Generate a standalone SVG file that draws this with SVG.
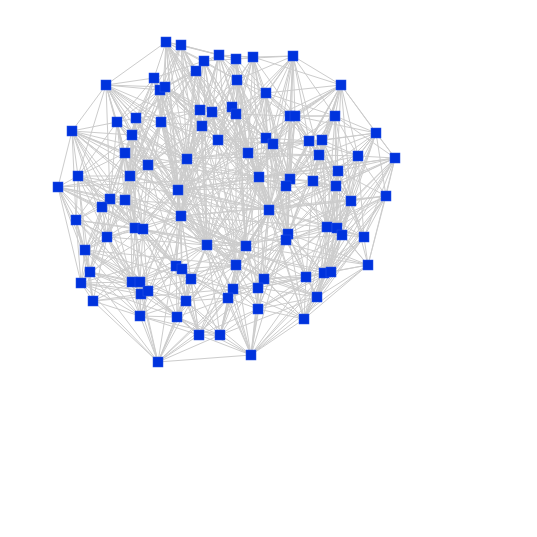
<svg xmlns="http://www.w3.org/2000/svg" width="537" height="537" viewBox="0 0 537 537">
<style>
.e{fill:none;stroke:#cccccc;stroke-width:1}
.n{fill:#0033dd;stroke:#2a55e6;stroke-width:0.5}
</style>
<rect width="537" height="537" fill="#ffffff"/>
<g id="edges">
<path class="e" d="M166 42L181 45M166 42L204 61M166 42L196 71M166 42L106 85M166 42L154 78M166 42L165 87M166 42L237 80M166 42L200 110M166 42L161 122M166 42L219 55M166 42L218 140M166 42L187 159M166 42L248 153"/>
<path class="e" d="M181 45L219 55M181 45L196 71M181 45L160 90M181 45L200 110M181 45L212 112M181 45L236 59M181 45L136 118M181 45L202 126M181 45L148 165"/>
<path class="e" d="M204 61L219 55M204 61L236 59M204 61L196 71M204 61L237 80M204 61L232 107M204 61L236 114M204 61L154 78M204 61L132 135M204 61L248 153M204 61L218 140"/>
<path class="e" d="M219 55L236 59M219 55L253 57M219 55L237 80M219 55L266 93M219 55L212 112M219 55L202 126M219 55L165 87M219 55L266 138"/>
<path class="e" d="M236 59L253 57M236 59L293 56M236 59L237 80M236 59L232 107M236 59L290 116M236 59L218 140M236 59L200 110M236 59L273 144"/>
<path class="e" d="M253 57L293 56M253 57L266 93M253 57L237 80M253 57L236 114M253 57L295 116M253 57L266 138M253 57L248 153M253 57L341 85"/>
<path class="e" d="M293 56L266 93M293 56L341 85M293 56L290 116M293 56L295 116M293 56L335 116M293 56L237 80M293 56L309 141M293 56L273 144M293 56L236 114M293 56L259 177"/>
<path class="e" d="M196 71L160 90M196 71L165 87M196 71L200 110M196 71L212 112M196 71L161 122M196 71L232 107M196 71L187 159M196 71L136 118"/>
<path class="e" d="M106 85L154 78M106 85L160 90M106 85L117 122M106 85L136 118M106 85L72 131M106 85L132 135M106 85L165 87M106 85L125 153M106 85L161 122M106 85L148 165M106 85L78 176M106 85L187 159"/>
<path class="e" d="M154 78L160 90M154 78L165 87M154 78L200 110M154 78L117 122M154 78L136 118M154 78L161 122M154 78L132 135M154 78L202 126M154 78L248 153"/>
<path class="e" d="M160 90L165 87M160 90L136 118M160 90L161 122M160 90L117 122M160 90L125 153M160 90L187 159M160 90L200 110"/>
<path class="e" d="M165 87L200 110M165 87L212 112M165 87L161 122M165 87L202 126M165 87L132 135M165 87L218 140"/>
<path class="e" d="M237 80L266 93M237 80L200 110M237 80L212 112M237 80L232 107M237 80L236 114M237 80L290 116M237 80L218 140M237 80L266 138M237 80L248 153"/>
<path class="e" d="M266 93L232 107M266 93L236 114M266 93L290 116M266 93L295 116M266 93L266 138M266 93L273 144M266 93L335 116M266 93L248 153M266 93L341 85M266 93L259 177"/>
<path class="e" d="M341 85L290 116M341 85L295 116M341 85L335 116M341 85L309 141M341 85L322 140M341 85L376 133M341 85L319 155M341 85L273 144M341 85L358 156M341 85L395 158M341 85L313 181"/>
<path class="e" d="M200 110L212 112M200 110L161 122M200 110L202 126M200 110L218 140M200 110L187 159M200 110L136 118M200 110L148 165M200 110L178 190"/>
<path class="e" d="M212 112L232 107M212 112L236 114M212 112L202 126M212 112L218 140M212 112L248 153M212 112L187 159M212 112L266 138"/>
<path class="e" d="M232 107L236 114M232 107L202 126M232 107L218 140M232 107L266 138M232 107L248 153M232 107L273 144"/>
<path class="e" d="M236 114L218 140M236 114L266 138M236 114L248 153M236 114L273 144M236 114L259 177M236 114L290 116"/>
<path class="e" d="M290 116L295 116M290 116L335 116M290 116L266 138M290 116L273 144M290 116L309 141M290 116L322 140M290 116L319 155M290 116L259 177M290 116L290 179"/>
<path class="e" d="M295 116L335 116M295 116L273 144M295 116L309 141M295 116L322 140M295 116L319 155M295 116L376 133M295 116L286 186"/>
<path class="e" d="M335 116L309 141M335 116L322 140M335 116L376 133M335 116L319 155M335 116L358 156M335 116L395 158M335 116L313 181M335 116L338 171"/>
<path class="e" d="M117 122L136 118M117 122L72 131M117 122L132 135M117 122L125 153M117 122L78 176M117 122L130 176M117 122L148 165M117 122L110 199M117 122L178 190"/>
<path class="e" d="M136 118L161 122M136 118L132 135M136 118L125 153M136 118L148 165M136 118L187 159M136 118L130 176"/>
<path class="e" d="M161 122L202 126M161 122L132 135M161 122L218 140M161 122L148 165M161 122L187 159M161 122L130 176M161 122L178 190"/>
<path class="e" d="M202 126L218 140M202 126L187 159M202 126L248 153M202 126L178 190M202 126L259 177M202 126L148 165"/>
<path class="e" d="M72 131L125 153M72 131L78 176M72 131L58 187M72 131L132 135M72 131L130 176M72 131L110 199M72 131L102 207M72 131L148 165M72 131L181 216"/>
<path class="e" d="M132 135L125 153M132 135L148 165M132 135L130 176M132 135L187 159M132 135L78 176M132 135L125 200"/>
<path class="e" d="M218 140L187 159M218 140L248 153M218 140L266 138M218 140L259 177M218 140L178 190M218 140L181 216M218 140L273 144"/>
<path class="e" d="M266 138L273 144M266 138L248 153M266 138L259 177M266 138L290 179M266 138L309 141M266 138L286 186M266 138L319 155M266 138L269 210"/>
<path class="e" d="M273 144L309 141M273 144L248 153M273 144L259 177M273 144L290 179M273 144L286 186M273 144L313 181M273 144L322 140"/>
<path class="e" d="M309 141L322 140M309 141L319 155M309 141L290 179M309 141L313 181M309 141L338 171M309 141L358 156M309 141L336 186"/>
<path class="e" d="M322 140L319 155M322 140L358 156M322 140L313 181M322 140L338 171M322 140L376 133M322 140L336 186M322 140L351 201"/>
<path class="e" d="M376 133L358 156M376 133L395 158M376 133L338 171M376 133L319 155M376 133L386 196M376 133L351 201"/>
<path class="e" d="M125 153L148 165M125 153L78 176M125 153L130 176M125 153L110 199M125 153L125 200M125 153L102 207M125 153L76 220M125 153L181 216"/>
<path class="e" d="M148 165L187 159M148 165L130 176M148 165L178 190M148 165L110 199M148 165L125 200M148 165L181 216M148 165L143 229"/>
<path class="e" d="M187 159L248 153M187 159L178 190M187 159L181 216M187 159L259 177M187 159L130 176M187 159L207 245"/>
<path class="e" d="M248 153L259 177M248 153L290 179M248 153L286 186M248 153L269 210M248 153L178 190M248 153L319 155"/>
<path class="e" d="M319 155L358 156M319 155L313 181M319 155L338 171M319 155L336 186M319 155L290 179M319 155L351 201"/>
<path class="e" d="M358 156L395 158M358 156L338 171M358 156L336 186M358 156L351 201M358 156L386 196M358 156L337 228"/>
<path class="e" d="M395 158L338 171M395 158L351 201M395 158L386 196M395 158L364 237M395 158L336 186M395 158L368 265M395 158L327 227"/>
<path class="e" d="M78 176L58 187M78 176L110 199M78 176L102 207M78 176L76 220M78 176L130 176M78 176L125 200M78 176L107 237M78 176L135 228M78 176L176 266"/>
<path class="e" d="M130 176L178 190M130 176L110 199M130 176L125 200M130 176L181 216M130 176L135 228M130 176L143 229"/>
<path class="e" d="M259 177L290 179M259 177L286 186M259 177L269 210M259 177L288 234M259 177L246 246M259 177L178 190M259 177L286 240"/>
<path class="e" d="M290 179L286 186M290 179L313 181M290 179L269 210M290 179L288 234M290 179L336 186"/>
<path class="e" d="M286 186L313 181M286 186L269 210M286 186L288 234M286 186L286 240M286 186L327 227M286 186L246 246"/>
<path class="e" d="M313 181L338 171M313 181L336 186M313 181L351 201M313 181L327 227M313 181L337 228M313 181L269 210"/>
<path class="e" d="M338 171L336 186M338 171L351 201M338 171L386 196M338 171L337 228M338 171L342 235"/>
<path class="e" d="M336 186L351 201M336 186L327 227M336 186L337 228M336 186L342 235M336 186L364 237M336 186L269 210"/>
<path class="e" d="M58 187L110 199M58 187L102 207M58 187L76 220M58 187L107 237M58 187L85 250M58 187L125 200M58 187L90 272M58 187L143 229"/>
<path class="e" d="M178 190L181 216M178 190L143 229M178 190L207 245M178 190L269 210M178 190L135 228M178 190L176 266"/>
<path class="e" d="M110 199L125 200M110 199L102 207M110 199L76 220M110 199L135 228M110 199L107 237M110 199L143 229"/>
<path class="e" d="M125 200L102 207M125 200L135 228M125 200L143 229M125 200L107 237M125 200L181 216"/>
<path class="e" d="M102 207L76 220M102 207L135 228M102 207L107 237M102 207L85 250"/>
<path class="e" d="M351 201L386 196M351 201L327 227M351 201L337 228M351 201L342 235M351 201L364 237M351 201L368 265M351 201L288 234"/>
<path class="e" d="M386 196L342 235M386 196L364 237M386 196L368 265M386 196L337 228"/>
<path class="e" d="M269 210L288 234M269 210L286 240M269 210L327 227M269 210L246 246M269 210L236 265M269 210L207 245M269 210L264 279M269 210L306 277"/>
<path class="e" d="M76 220L107 237M76 220L85 250M76 220L90 272M76 220L135 228M76 220L81 283"/>
<path class="e" d="M181 216L135 228M181 216L143 229M181 216L207 245M181 216L176 266M181 216L182 269M181 216L246 246"/>
<path class="e" d="M135 228L143 229M135 228L107 237M135 228L176 266M135 228L132 282M135 228L140 282M135 228L85 250"/>
<path class="e" d="M143 229L107 237M143 229L207 245M143 229L176 266M143 229L182 269M143 229L140 282M143 229L148 291"/>
<path class="e" d="M107 237L85 250M107 237L90 272M107 237L132 282M107 237L81 283M107 237L140 282"/>
<path class="e" d="M288 234L286 240M288 234L327 227M288 234L246 246M288 234L236 265M288 234L264 279M288 234L306 277M288 234L324 273M288 234L304 319"/>
<path class="e" d="M286 240L327 227M286 240L337 228M286 240L236 265M286 240L264 279M286 240L306 277M286 240L258 288"/>
<path class="e" d="M327 227L337 228M327 227L342 235M327 227L306 277M327 227L324 273M327 227L331 272M327 227L364 237"/>
<path class="e" d="M337 228L342 235M337 228L364 237M337 228L324 273M337 228L331 272M337 228L368 265"/>
<path class="e" d="M342 235L364 237M342 235L331 272M342 235L368 265M342 235L324 273M342 235L317 297"/>
<path class="e" d="M364 237L368 265M364 237L331 272M364 237L324 273M364 237L317 297"/>
<path class="e" d="M207 245L246 246M207 245L176 266M207 245L182 269M207 245L236 265M207 245L191 279M207 245L233 289M207 245L228 298"/>
<path class="e" d="M246 246L236 265M246 246L264 279M246 246L233 289M246 246L258 288M246 246L191 279"/>
<path class="e" d="M85 250L90 272M85 250L81 283M85 250L132 282M85 250L93 301M85 250L140 282M85 250L186 301"/>
<path class="e" d="M176 266L182 269M176 266L191 279M176 266L132 282M176 266L140 282M176 266L148 291M176 266L186 301M176 266L177 317"/>
<path class="e" d="M182 269L191 279M182 269L148 291M182 269L228 298M182 269L186 301M182 269L236 265"/>
<path class="e" d="M236 265L191 279M236 265L264 279M236 265L233 289M236 265L258 288M236 265L228 298M236 265L258 309M236 265L251 355"/>
<path class="e" d="M90 272L81 283M90 272L132 282M90 272L93 301M90 272L141 294M90 272L140 316"/>
<path class="e" d="M191 279L233 289M191 279L228 298M191 279L186 301M191 279L177 317M191 279L148 291M191 279L199 335"/>
<path class="e" d="M264 279L306 277M264 279L233 289M264 279L258 288M264 279L258 309M264 279L317 297M264 279L324 273"/>
<path class="e" d="M306 277L324 273M306 277L331 272M306 277L258 288M306 277L317 297M306 277L258 309M306 277L304 319"/>
<path class="e" d="M324 273L331 272M324 273L317 297M324 273L304 319M324 273L368 265"/>
<path class="e" d="M331 272L368 265M331 272L317 297M331 272L304 319"/>
<path class="e" d="M368 265L317 297M368 265L304 319M368 265L251 355"/>
<path class="e" d="M81 283L132 282M81 283L93 301M81 283L140 316M81 283L158 362M81 283L141 294M81 283L148 291"/>
<path class="e" d="M132 282L140 282M132 282L141 294M132 282L148 291M132 282L93 301M132 282L140 316"/>
<path class="e" d="M140 282L141 294M140 282L148 291M140 282L186 301M140 282L140 316M140 282L177 317"/>
<path class="e" d="M141 294L148 291M141 294L140 316M141 294L93 301M141 294L177 317M141 294L158 362"/>
<path class="e" d="M148 291L186 301M148 291L140 316M148 291L177 317M148 291L199 335"/>
<path class="e" d="M233 289L258 288M233 289L228 298M233 289L258 309M233 289L220 335M233 289L251 355M233 289L186 301"/>
<path class="e" d="M258 288L228 298M258 288L258 309M258 288L251 355M258 288L317 297M258 288L304 319M258 288L158 362"/>
<path class="e" d="M228 298L186 301M228 298L258 309M228 298L199 335M228 298L220 335M228 298L251 355"/>
<path class="e" d="M186 301L177 317M186 301L199 335M186 301L220 335M186 301L158 362M186 301L140 316"/>
<path class="e" d="M317 297L258 309M317 297L304 319M317 297L251 355"/>
<path class="e" d="M93 301L140 316M93 301L158 362M140 316L177 317M140 316L158 362M140 316L199 335M177 317L199 335M177 317L220 335M177 317L158 362"/>
<path class="e" d="M258 309L304 319M258 309L220 335M258 309L251 355M258 309L199 335M304 319L251 355M199 335L220 335M199 335L158 362M199 335L251 355M220 335L251 355M220 335L158 362M251 355L158 362"/>
<path class="e" d="M166 42L178 190M166 42L181 216M166 42L259 177M166 42L269 210M166 42L246 246M181 45L187 159M181 45L130 176M181 45L269 210M181 45L248 153M181 45L207 245M204 61L178 190M204 61L259 177M204 61L207 245M204 61L181 216M204 61L236 265M219 55L187 159M219 55L248 153M219 55L269 210M219 55L178 190"/>
<path class="e" d="M236 59L259 177M236 59L248 153M236 59L269 210M236 59L246 246M236 59L202 126M253 57L259 177M253 57L218 140M253 57L290 179M253 57L187 159M253 57L288 234M293 56L248 153M293 56L290 179M293 56L286 186M293 56L269 210M293 56L319 155M293 56L178 190M196 71L218 140M196 71L248 153M196 71L178 190M196 71L181 216M196 71L130 176"/>
<path class="e" d="M106 85L178 190M106 85L110 199M106 85L130 176M106 85L181 216M106 85L202 126M106 85L269 210M106 85L259 177M154 78L187 159M154 78L178 190M154 78L130 176M154 78L218 140M154 78L181 216M154 78L246 246M160 90L178 190M160 90L181 216M160 90L130 176M160 90L218 140M165 87L187 159M165 87L130 176M165 87L178 190M165 87L248 153"/>
<path class="e" d="M237 80L259 177M237 80L187 159M237 80L269 210M237 80L273 144M237 80L246 246M266 93L290 179M266 93L286 186M266 93L269 210M266 93L319 155M266 93L218 140M266 93L207 245M341 85L290 179M341 85L336 186M341 85L351 201M341 85L266 138M341 85L286 186M341 85L288 234"/>
<path class="e" d="M200 110L181 216M200 110L248 153M200 110L130 176M200 110L207 245M212 112L259 177M212 112L178 190M212 112L269 210M212 112L181 216M232 107L259 177M232 107L187 159M232 107L269 210M232 107L178 190M236 114L269 210M236 114L290 179M236 114L178 190M236 114L246 246"/>
<path class="e" d="M290 116L286 186M290 116L269 210M290 116L338 171M290 116L288 234M290 116L207 245M295 116L290 179M295 116L313 181M295 116L269 210M295 116L286 240M335 116L336 186M335 116L351 201M335 116L290 179M335 116L327 227M335 116L181 216M335 116L288 234"/>
<path class="e" d="M117 122L125 200M117 122L135 228M117 122L181 216M117 122L187 159M117 122L207 245M136 118L178 190M136 118L110 199M136 118L125 200M136 118L181 216M136 118L135 228M161 122L181 216M161 122L125 200M161 122L143 229M161 122L207 245M202 126L181 216M202 126L269 210M202 126L207 245M202 126L130 176"/>
<path class="e" d="M72 131L125 200M72 131L135 228M72 131L107 237M72 131L76 220M72 131L187 159M72 131L207 245M72 131L178 190M132 135L178 190M132 135L181 216M132 135L135 228M132 135L143 229M132 135L110 199M218 140L269 210M218 140L207 245M218 140L246 246M218 140L290 179"/>
<path class="e" d="M266 138L269 210M266 138L288 234M266 138L313 181M266 138L286 240M273 144L269 210M273 144L288 234M273 144L336 186M273 144L286 240M309 141L286 186M309 141L351 201M309 141L269 210M309 141L327 227M322 140L290 179M322 140L327 227M322 140L337 228M322 140L269 210M322 140L246 246"/>
<path class="e" d="M376 133L336 186M376 133L327 227M376 133L337 228M376 133L342 235M376 133L269 210M125 153L135 228M125 153L143 229M125 153L178 190M125 153L107 237M125 153L236 265M148 165L135 228M148 165L207 245M148 165L107 237M148 165L176 266M187 159L269 210M187 159L143 229M187 159L246 246M187 159L176 266M187 159L251 355"/>
<path class="e" d="M248 153L288 234M248 153L286 240M248 153L207 245M248 153L246 246M248 153L304 319M248 153L258 309M319 155L269 210M319 155L288 234M319 155L327 227M319 155L337 228M358 156L327 227M358 156L342 235M358 156L364 237M358 156L313 181M358 156L288 234"/>
<path class="e" d="M395 158L324 273M395 158L331 272M395 158L337 228M395 158L342 235M395 158L259 177M395 158L269 210M78 176L181 216M78 176L143 229M78 176L85 250M78 176L90 272M78 176L207 245M130 176L207 245M130 176L176 266M130 176L107 237M130 176L132 282"/>
<path class="e" d="M259 177L207 245M259 177L236 265M259 177L264 279M259 177L327 227M259 177L258 288M290 179L286 240M290 179L327 227M290 179L246 246M290 179L236 265M286 186L337 228M286 186L236 265M286 186L264 279M286 186L306 277M313 181L288 234M313 181L342 235M313 181L306 277M313 181L324 273"/>
<path class="e" d="M338 171L327 227M338 171L364 237M338 171L324 273M338 171L269 210M338 171L246 246M336 186L288 234M336 186L324 273M336 186L331 272M336 186L306 277M58 187L135 228M58 187L81 283M58 187L132 282M58 187L130 176M58 187L246 246"/>
<path class="e" d="M178 190L246 246M178 190L182 269M178 190L236 265M178 190L140 282M178 190L368 265M110 199L85 250M110 199L176 266M110 199L90 272M110 199L132 282M125 200L176 266M125 200L85 250M125 200L140 282M125 200L207 245M102 207L143 229M102 207L90 272M102 207L81 283M102 207L132 282"/>
<path class="e" d="M351 201L324 273M351 201L331 272M351 201L306 277M351 201L317 297M351 201L246 246M386 196L324 273M386 196L331 272M386 196L317 297M386 196L327 227M386 196L269 210M386 196L236 265M269 210L324 273M269 210L233 289M269 210L258 288M269 210L337 228M269 210L251 355"/>
<path class="e" d="M76 220L132 282M76 220L93 301M76 220L140 282M76 220L191 279M181 216L236 265M181 216L191 279M181 216L140 282M181 216L233 289M181 216L158 362M135 228L182 269M135 228L148 291M135 228L141 294M135 228L186 301M143 229L191 279M143 229L132 282M143 229L186 301M143 229L177 317"/>
<path class="e" d="M107 237L141 294M107 237L148 291M107 237L93 301M107 237L140 316M288 234L233 289M288 234L258 288M288 234L317 297M288 234L258 309M288 234L251 355M286 240L233 289M286 240L317 297M286 240L258 309M286 240L324 273"/>
<path class="e" d="M327 227L317 297M327 227L304 319M327 227L264 279M327 227L258 288M337 228L306 277M337 228L317 297M337 228L304 319M342 235L306 277M342 235L304 319M342 235L264 279M364 237L306 277M364 237L304 319M364 237L251 355"/>
<path class="e" d="M207 245L186 301M207 245L177 317M207 245L220 335M207 245L264 279M246 246L228 298M246 246L258 309M246 246L220 335M246 246L182 269M85 250L141 294M85 250L140 316M85 250L148 291M85 250L191 279M176 266L228 298M176 266L199 335M176 266L140 316"/>
<path class="e" d="M182 269L177 317M182 269L199 335M182 269L233 289M236 265L186 301M236 265L220 335M236 265L317 297M90 272L140 282M90 272L148 291M90 272L158 362M191 279L220 335M191 279L140 316M191 279L158 362M264 279L304 319M264 279L251 355M264 279L228 298M306 277L251 355M306 277L233 289"/>
<path class="e" d="M324 273L258 309M324 273L251 355M331 272L258 309M331 272L258 288M81 283L177 317M132 282L177 317M132 282L158 362M140 282L199 335M140 282L158 362M233 289L199 335M233 289L304 319M228 298L158 362M228 298L177 317M186 301L251 355M317 297L220 335M140 316L220 335M177 317L251 355"/>
<path class="e" d="M395 158L207 245M93 301L181 216M81 283L207 245M364 237L259 177M199 335L181 216M220 335L269 210M368 265L246 246M324 273L207 245M317 297L181 216M304 319L269 210M158 362L233 289M199 335L246 246M220 335L288 234M177 317L269 210M140 316L181 216M141 294L178 190M148 291L181 216M81 283L178 190M90 272L181 216M85 250L187 159M107 237L178 190"/>
<path class="e" d="M72 131L269 210M58 187L259 177M78 176L269 210M110 199L246 246M76 220L246 246M85 250L236 265M158 362L259 177M251 355L178 190M304 319L178 190M368 265L181 216M386 196L181 216M395 158L178 190M376 133L187 159M341 85L187 159M341 85L178 190M293 56L181 216M166 42L236 265M106 85L246 246M117 122L269 210M125 153L259 177M130 176L269 210"/>
<path class="e" d="M148 165L259 177M125 200L269 210M135 228L246 246M143 229L236 265M107 237L207 245M132 282L207 245M140 282L236 265M93 301L233 289M186 301L269 210M199 335L259 177M220 335L259 177M258 309L178 190M258 288L181 216M264 279L178 190M306 277L181 216M317 297L207 245M331 272L207 245M342 235L207 245M327 227L181 216M351 201L181 216"/>
<path class="e" d="M336 186L178 190M290 179L178 190M309 141L178 190M319 155L187 159M358 156L259 177M338 171L259 177M266 138L178 190M273 144L181 216M295 116L207 245M266 93L181 216M253 57L207 245M236 59L181 216M219 55L236 265M165 87L207 245M160 90L207 245M161 122L236 265M136 118L207 245M132 135L246 246M202 126L236 265M236 114L236 265M232 107L246 246"/>
</g>
<g id="nodes">
<g id="n1"><rect class="n" x="161" y="37" width="10" height="10"/></g>
<g id="n2"><rect class="n" x="176" y="40" width="10" height="10"/></g>
<g id="n3"><rect class="n" x="199" y="56" width="10" height="10"/></g>
<g id="n4"><rect class="n" x="214" y="50" width="10" height="10"/></g>
<g id="n5"><rect class="n" x="231" y="54" width="10" height="10"/></g>
<g id="n6"><rect class="n" x="248" y="52" width="10" height="10"/></g>
<g id="n7"><rect class="n" x="288" y="51" width="10" height="10"/></g>
<g id="n8"><rect class="n" x="191" y="66" width="10" height="10"/></g>
<g id="n9"><rect class="n" x="101" y="80" width="10" height="10"/></g>
<g id="n10"><rect class="n" x="149" y="73" width="10" height="10"/></g>
<g id="n11"><rect class="n" x="155" y="85" width="10" height="10"/></g>
<g id="n12"><rect class="n" x="160" y="82" width="10" height="10"/></g>
<g id="n13"><rect class="n" x="232" y="75" width="10" height="10"/></g>
<g id="n14"><rect class="n" x="261" y="88" width="10" height="10"/></g>
<g id="n15"><rect class="n" x="336" y="80" width="10" height="10"/></g>
<g id="n16"><rect class="n" x="195" y="105" width="10" height="10"/></g>
<g id="n17"><rect class="n" x="207" y="107" width="10" height="10"/></g>
<g id="n18"><rect class="n" x="227" y="102" width="10" height="10"/></g>
<g id="n19"><rect class="n" x="231" y="109" width="10" height="10"/></g>
<g id="n20"><rect class="n" x="285" y="111" width="10" height="10"/></g>
<g id="n21"><rect class="n" x="290" y="111" width="10" height="10"/></g>
<g id="n22"><rect class="n" x="330" y="111" width="10" height="10"/></g>
<g id="n23"><rect class="n" x="112" y="117" width="10" height="10"/></g>
<g id="n24"><rect class="n" x="131" y="113" width="10" height="10"/></g>
<g id="n25"><rect class="n" x="156" y="117" width="10" height="10"/></g>
<g id="n26"><rect class="n" x="197" y="121" width="10" height="10"/></g>
<g id="n27"><rect class="n" x="67" y="126" width="10" height="10"/></g>
<g id="n28"><rect class="n" x="127" y="130" width="10" height="10"/></g>
<g id="n29"><rect class="n" x="213" y="135" width="10" height="10"/></g>
<g id="n30"><rect class="n" x="261" y="133" width="10" height="10"/></g>
<g id="n31"><rect class="n" x="268" y="139" width="10" height="10"/></g>
<g id="n32"><rect class="n" x="304" y="136" width="10" height="10"/></g>
<g id="n33"><rect class="n" x="317" y="135" width="10" height="10"/></g>
<g id="n34"><rect class="n" x="371" y="128" width="10" height="10"/></g>
<g id="n35"><rect class="n" x="120" y="148" width="10" height="10"/></g>
<g id="n36"><rect class="n" x="143" y="160" width="10" height="10"/></g>
<g id="n37"><rect class="n" x="182" y="154" width="10" height="10"/></g>
<g id="n38"><rect class="n" x="243" y="148" width="10" height="10"/></g>
<g id="n39"><rect class="n" x="314" y="150" width="10" height="10"/></g>
<g id="n40"><rect class="n" x="353" y="151" width="10" height="10"/></g>
<g id="n41"><rect class="n" x="390" y="153" width="10" height="10"/></g>
<g id="n42"><rect class="n" x="73" y="171" width="10" height="10"/></g>
<g id="n43"><rect class="n" x="125" y="171" width="10" height="10"/></g>
<g id="n44"><rect class="n" x="254" y="172" width="10" height="10"/></g>
<g id="n45"><rect class="n" x="285" y="174" width="10" height="10"/></g>
<g id="n46"><rect class="n" x="281" y="181" width="10" height="10"/></g>
<g id="n47"><rect class="n" x="308" y="176" width="10" height="10"/></g>
<g id="n48"><rect class="n" x="333" y="166" width="10" height="10"/></g>
<g id="n49"><rect class="n" x="331" y="181" width="10" height="10"/></g>
<g id="n50"><rect class="n" x="53" y="182" width="10" height="10"/></g>
<g id="n51"><rect class="n" x="173" y="185" width="10" height="10"/></g>
<g id="n52"><rect class="n" x="105" y="194" width="10" height="10"/></g>
<g id="n53"><rect class="n" x="120" y="195" width="10" height="10"/></g>
<g id="n54"><rect class="n" x="97" y="202" width="10" height="10"/></g>
<g id="n55"><rect class="n" x="346" y="196" width="10" height="10"/></g>
<g id="n56"><rect class="n" x="381" y="191" width="10" height="10"/></g>
<g id="n57"><rect class="n" x="264" y="205" width="10" height="10"/></g>
<g id="n58"><rect class="n" x="71" y="215" width="10" height="10"/></g>
<g id="n59"><rect class="n" x="176" y="211" width="10" height="10"/></g>
<g id="n60"><rect class="n" x="130" y="223" width="10" height="10"/></g>
<g id="n61"><rect class="n" x="138" y="224" width="10" height="10"/></g>
<g id="n62"><rect class="n" x="102" y="232" width="10" height="10"/></g>
<g id="n63"><rect class="n" x="283" y="229" width="10" height="10"/></g>
<g id="n64"><rect class="n" x="281" y="235" width="10" height="10"/></g>
<g id="n65"><rect class="n" x="322" y="222" width="10" height="10"/></g>
<g id="n66"><rect class="n" x="332" y="223" width="10" height="10"/></g>
<g id="n67"><rect class="n" x="337" y="230" width="10" height="10"/></g>
<g id="n68"><rect class="n" x="359" y="232" width="10" height="10"/></g>
<g id="n69"><rect class="n" x="202" y="240" width="10" height="10"/></g>
<g id="n70"><rect class="n" x="241" y="241" width="10" height="10"/></g>
<g id="n71"><rect class="n" x="80" y="245" width="10" height="10"/></g>
<g id="n72"><rect class="n" x="171" y="261" width="10" height="10"/></g>
<g id="n73"><rect class="n" x="177" y="264" width="10" height="10"/></g>
<g id="n74"><rect class="n" x="231" y="260" width="10" height="10"/></g>
<g id="n75"><rect class="n" x="85" y="267" width="10" height="10"/></g>
<g id="n76"><rect class="n" x="186" y="274" width="10" height="10"/></g>
<g id="n77"><rect class="n" x="259" y="274" width="10" height="10"/></g>
<g id="n78"><rect class="n" x="301" y="272" width="10" height="10"/></g>
<g id="n79"><rect class="n" x="319" y="268" width="10" height="10"/></g>
<g id="n80"><rect class="n" x="326" y="267" width="10" height="10"/></g>
<g id="n81"><rect class="n" x="363" y="260" width="10" height="10"/></g>
<g id="n82"><rect class="n" x="76" y="278" width="10" height="10"/></g>
<g id="n83"><rect class="n" x="127" y="277" width="10" height="10"/></g>
<g id="n84"><rect class="n" x="135" y="277" width="10" height="10"/></g>
<g id="n85"><rect class="n" x="136" y="289" width="10" height="10"/></g>
<g id="n86"><rect class="n" x="143" y="286" width="10" height="10"/></g>
<g id="n87"><rect class="n" x="228" y="284" width="10" height="10"/></g>
<g id="n88"><rect class="n" x="253" y="283" width="10" height="10"/></g>
<g id="n89"><rect class="n" x="223" y="293" width="10" height="10"/></g>
<g id="n90"><rect class="n" x="181" y="296" width="10" height="10"/></g>
<g id="n91"><rect class="n" x="312" y="292" width="10" height="10"/></g>
<g id="n92"><rect class="n" x="88" y="296" width="10" height="10"/></g>
<g id="n93"><rect class="n" x="135" y="311" width="10" height="10"/></g>
<g id="n94"><rect class="n" x="172" y="312" width="10" height="10"/></g>
<g id="n95"><rect class="n" x="253" y="304" width="10" height="10"/></g>
<g id="n96"><rect class="n" x="299" y="314" width="10" height="10"/></g>
<g id="n97"><rect class="n" x="194" y="330" width="10" height="10"/></g>
<g id="n98"><rect class="n" x="215" y="330" width="10" height="10"/></g>
<g id="n99"><rect class="n" x="246" y="350" width="10" height="10"/></g>
<g id="n100"><rect class="n" x="153" y="357" width="10" height="10"/></g>
</g>
</svg>
